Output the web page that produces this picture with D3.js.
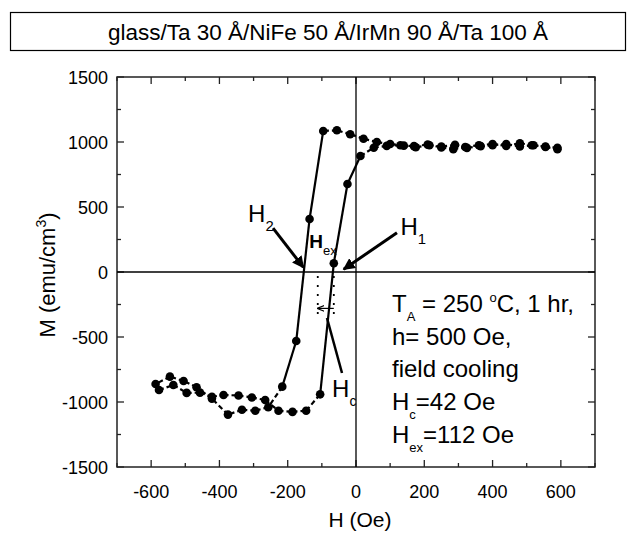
<!DOCTYPE html>
<html><head><meta charset="utf-8">
<script src="https://cdn.jsdelivr.net/npm/d3@7"></script>
<style>body{margin:0;background:#fff;} text{font-family:"Liberation Sans",Arial,sans-serif;fill:#000;}</style>
</head><body>
<svg id="c" width="635" height="535"></svg>
<script>
const title = "glass/Ta 30 Å/NiFe 50 Å/IrMn 90 Å/Ta 100 Å";
const xTicks = [-600,-400,-200,0,200,400,600];
const yTicks = [-1500,-1000,-500,0,500,1000,1500];
// descending branch (field decreasing)
const descH = [590,555,515,480,440,400,365,325,290,250,215,175,140,100,61,22,-17,-56,-96,-136,-175,-216,-257,-295,-334,-375,-422,-467,-505,-545,-587];
const descM = [955,965,975,965,985,975,968,955,978,965,975,960,972,985,1000,1025,1060,1090,1085,408,-531,-882,-1040,-1067,-1060,-1097,-974,-887,-838,-805,-862];
// ascending branch (field increasing)
const ascH = [-577,-535,-496,-457,-422,-388,-344,-305,-266,-227,-186,-146,-105,-65,-25,13,52,90,130,170,210,250,285,320,360,400,440,480,520,555,590];
const ascM = [-908,-869,-930,-928,-960,-946,-950,-965,-985,-1067,-1076,-1067,-941,67,677,892,956,970,975,968,980,958,945,962,975,985,970,990,975,962,945];
const H1 = -65, H2 = -154, Hex = -112;

const svg = d3.select("#c");
const L=117,R=595,T=77,B=467;
const x = d3.scaleLinear().domain([-700,700]).range([L,R]);
const y = d3.scaleLinear().domain([-1500,1500]).range([B,T]);

// title box
svg.append("rect").attr("x",10.5).attr("y",12.5).attr("width",615).attr("height",38)
  .attr("fill","none").attr("stroke","#000").attr("stroke-width",1.2);
svg.append("text").attr("x",328).attr("y",40).attr("text-anchor","middle").attr("font-size",22.5).text(title);

const defs = svg.append("defs");
defs.append("marker").attr("id","ah").attr("viewBox","0 0 10 10").attr("refX",9).attr("refY",5)
  .attr("markerWidth",4).attr("markerHeight",4).attr("orient","auto")
  .append("path").attr("d","M0,0L10,5L0,10z").attr("fill","#000");
defs.append("marker").attr("id","ahs").attr("viewBox","0 0 10 10").attr("refX",9).attr("refY",5)
  .attr("markerWidth",6).attr("markerHeight",6).attr("orient","auto")
  .append("path").attr("d","M0,1L10,5L0,9").attr("fill","none").attr("stroke","#000").attr("stroke-width",1.5);

// ticks (inward, mirrored)
const g = svg.append("g");
const xMinor = d3.range(-700,701,100);
const yMinor = d3.range(-1500,1501,250);
xMinor.forEach(v=>{
  const len = (v%200===0)?7:4;
  g.append("line").attr("x1",x(v)).attr("x2",x(v)).attr("y1",B).attr("y2",B-len).attr("stroke","#222").attr("stroke-width",1.3);
  g.append("line").attr("x1",x(v)).attr("x2",x(v)).attr("y1",T).attr("y2",T+len).attr("stroke","#222").attr("stroke-width",1.3);
});
yMinor.forEach(v=>{
  const len = (v%500===0)?7:4;
  g.append("line").attr("y1",y(v)).attr("y2",y(v)).attr("x1",L).attr("x2",L+len).attr("stroke","#222").attr("stroke-width",1.3);
  g.append("line").attr("y1",y(v)).attr("y2",y(v)).attr("x1",R).attr("x2",R-len).attr("stroke","#222").attr("stroke-width",1.3);
});
xTicks.forEach(v=>g.append("text").attr("x",x(v)).attr("y",498).attr("text-anchor","middle").attr("font-size",18).text(v));
yTicks.forEach(v=>g.append("text").attr("x",L-9).attr("y",y(v)+6.5).attr("text-anchor","end").attr("font-size",18).text(v));
svg.append("rect").attr("x",L).attr("y",T).attr("width",R-L).attr("height",B-T).attr("fill","none").attr("stroke","#222").attr("stroke-width",1.5);

// crosshair
svg.append("line").attr("x1",x(0)).attr("x2",x(0)).attr("y1",T).attr("y2",B).attr("stroke","#000").attr("stroke-width",1.3);
svg.append("line").attr("x1",L).attr("x2",R).attr("y1",y(0)).attr("y2",y(0)).attr("stroke","#000").attr("stroke-width",1.3);

// axis labels
svg.append("text").attr("x",360).attr("y",527).attr("text-anchor","middle").attr("font-size",21).text("H (Oe)");
const yl = svg.append("text").attr("transform","translate(55,275) rotate(-90)").attr("text-anchor","middle").attr("font-size",22);
yl.append("tspan").text("M (emu/cm");
yl.append("tspan").attr("font-size",14).attr("dy",-9).text("3");
yl.append("tspan").attr("dy",9).text(")");

// loop
function drawBranch(H,M){
  for(let i=0;i<H.length-1;i++){
    const x1=x(H[i]),y1=y(M[i]),x2=x(H[i+1]),y2=y(M[i+1]);
    const len=Math.hypot(x2-x1,y2-y1);
    svg.append("line").attr("x1",x1).attr("y1",y1).attr("x2",x2).attr("y2",y2)
      .attr("stroke","#000").attr("stroke-width",2.2)
      .attr("stroke-dasharray",len>30?null:"5,3");
  }
  H.forEach((h,i)=>svg.append("circle").attr("cx",x(h)).attr("cy",y(M[i])).attr("r",4.3).attr("fill","#000"));
}
drawBranch(descH,descM);
drawBranch(ascH,ascM);

// annotations
function sub(xp,yp,main,s,size,bold,ssize){
  const t=svg.append("text").attr("x",xp).attr("y",yp).attr("font-size",size);
  if(bold) t.attr("font-weight","bold");
  t.append("tspan").text(main);
  t.append("tspan").attr("font-size",ssize||size*0.62).attr("font-weight","normal").attr("dy",size*0.38).text(s);
  return t;
}
sub(x(-316),y(385),"H","2",24);
svg.append("line").attr("x1",x(-243)).attr("y1",y(338)).attr("x2",x(H2)).attr("y2",y(35))
  .attr("stroke","#000").attr("stroke-width",3).attr("marker-end","url(#ah)");
sub(x(130),y(285),"H","1",24);
svg.append("line").attr("x1",x(120)).attr("y1",y(302)).attr("x2",x(-36)).attr("y2",y(21))
  .attr("stroke","#000").attr("stroke-width",3).attr("marker-end","url(#ah)");
sub(x(-137),y(185),"H","ex",19,true,13);
[Hex,H1].forEach(v=>svg.append("line").attr("x1",x(v)).attr("x2",x(v)).attr("y1",y(-30)).attr("y2",y(-330))
  .attr("stroke","#000").attr("stroke-width",1.8).attr("stroke-dasharray","2,7"));
svg.append("line").attr("x1",x(H1)).attr("x2",x(Hex)).attr("y1",y(-280)).attr("y2",y(-280))
  .attr("stroke","#000").attr("stroke-width",1.2).attr("marker-end","url(#ahs)");
svg.append("line").attr("x1",x(-85)).attr("y1",y(-354)).attr("x2",x(-41)).attr("y2",y(-777))
  .attr("stroke","#000").attr("stroke-width",2.5);
sub(x(-70),y(-960),"H","c",24,false,14);

// info block
const ix = 392, iy0 = 312, dl = 32.7, fs = 24;
function subLine(i, main, s, rest){
  const t=svg.append("text").attr("x",ix).attr("y",iy0+i*dl).attr("font-size",fs);
  t.append("tspan").text(main);
  t.append("tspan").attr("font-size",13).attr("dy",9).text(s);
  t.append("tspan").attr("dy",-9).text(rest);
  return t;
}
const t0 = subLine(0,"T","A"," = 250 ");
t0.append("tspan").attr("font-size",13).attr("dy",-10).text("o");
t0.append("tspan").attr("dy",10).text("C, 1 hr,");
svg.append("text").attr("x",ix).attr("y",iy0+dl).attr("font-size",fs).text("h= 500 Oe,");
svg.append("text").attr("x",ix).attr("y",iy0+2*dl).attr("font-size",fs).text("field cooling");
subLine(3,"H","c","=42 Oe");
subLine(4,"H","ex","=112 Oe");
</script>
</body></html>
